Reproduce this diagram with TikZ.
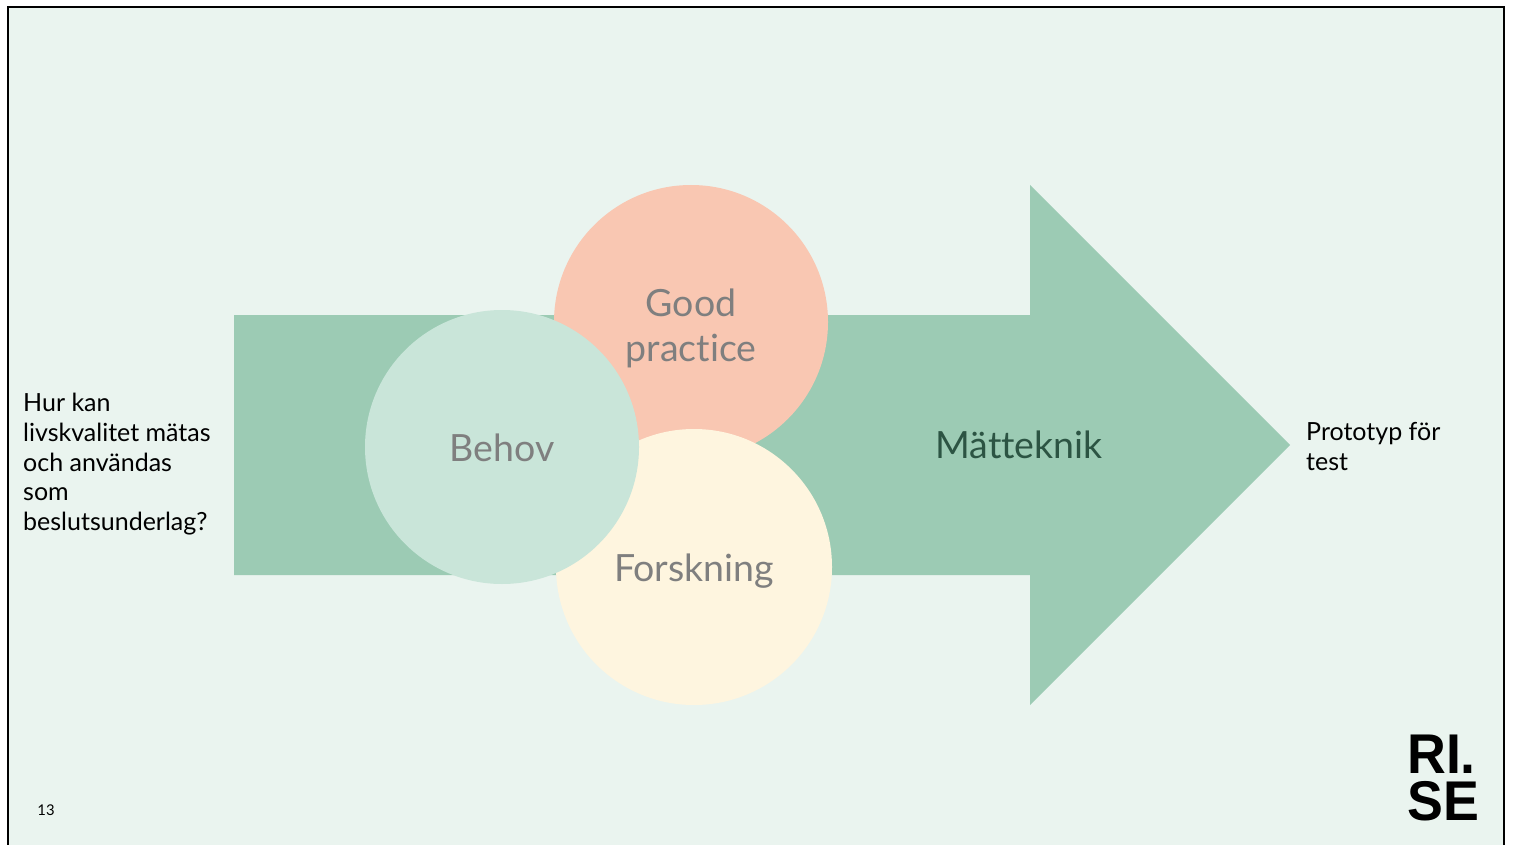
\documentclass[tikz,border=0pt]{standalone}
\usepackage{fontspec}
\setmainfont[Ligatures={NoCommon}]{Lato}
\newfontfamily\logofont{Liberation Sans}
\definecolor{bg}{HTML}{EAF4EF}
\definecolor{arrowgreen}{HTML}{9CCBB4}
\definecolor{behovc}{HTML}{C9E5D9}
\definecolor{goodc}{HTML}{F9C7B2}
\definecolor{forskc}{HTML}{FEF5DF}
\definecolor{graytxt}{HTML}{7F7F7F}
\definecolor{darkgreen}{HTML}{2C5443}
\begin{document}
\begin{tikzpicture}[x=1pt,y=-1pt,
  circlabel/.style={text=graytxt,font=\fontsize{37.5}{45}\selectfont,align=center,inner sep=0pt},
  sidetext/.style={text=black,font=\fontsize{25}{29.7}\selectfont,align=left,anchor=north west,inner sep=0pt},
  logotext/.style={font=\logofont\bfseries\fontsize{56}{47}\selectfont,inner sep=0pt,anchor=base west,xscale=0.96}]
\useasboundingbox (0,0) rectangle (1514,845);
\fill[white] (0,0) rectangle (1514,845);
\fill[bg] (8,7) rectangle (1504,845);
\draw[black,line width=2.2pt] (8,845) -- (8,7) -- (1504,7) -- (1504,845);
% arrow
\fill[arrowgreen] (234,315) -- (1030,315) -- (1030,185) -- (1290,445) -- (1030,705) -- (1030,575) -- (234,575) -- cycle;
% circles
\fill[goodc] (691,322) circle (137);
\fill[forskc] (694,567) circle (138);
\fill[behovc] (502,447) circle (137);
\node[circlabel] (good) at (691,328) {Good\\practice};
\node[circlabel] (forsk) at (694,571) {Forskning};
\node[circlabel] (behov) at (502,448) {Behov};
\node[text=darkgreen,font=\fontsize{37.5}{44}\selectfont,inner sep=0pt] (matt) at (1019,445) {Mätteknik};
\node[sidetext] (q) at (23,393) {Hur kan\\livskvalitet mätas\\och användas\\som\\beslutsunderlag?};
\node[sidetext] (proto) at (1306,422) {Prototyp för\\test};
\node[font=\fontsize{14.8}{16}\selectfont,inner sep=0pt] (num) at (46,810) {13};
\node[logotext] (logo1) at (1407,773) {RI.};
\node[logotext] (logo2) at (1407,820) {SE};
\end{tikzpicture}
\end{document}
